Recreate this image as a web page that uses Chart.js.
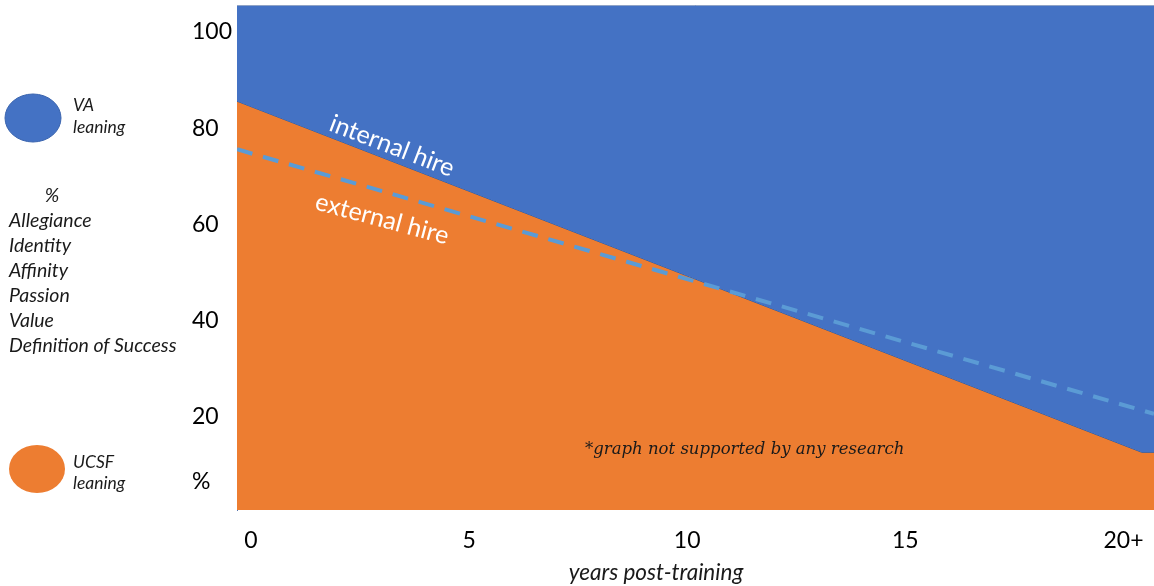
<!DOCTYPE html>
<html>
<head>
<meta charset="utf-8">
<script src="https://cdn.jsdelivr.net/npm/chart.js@4.4.1/dist/chart.umd.min.js"></script>
<style>
  html, body { margin: 0; padding: 0; background: #fff; }
  #wrap { width: 1154px; height: 586px; position: relative; }
</style>
</head>
<body>
<div id="wrap"><canvas id="chart"></canvas></div>
<script>
// years post-training (plot runs slightly past 0 and 20 on both sides)
const internalYears = [-0.32, 20.42, 20.7]
const internalHire = [85, 12, 12]
const externalYears = [-0.32, 20.7]
const externalHire = [75, 20]
const xTicks = [0, 5, 10, 15, 20]
const xTickLabels = ["0", "5", "10", "15", "20+"]
const yTicks = [6.5, 20, 40, 60, 80, 100]
const yTickLabels = ["%", "20", "40", "60", "80", "100"]
const sideLabels = ["Allegiance", "Identity", "Affinity", "Passion", "Value", "Definition of Success"]

const blue = "#4472C4"
const orange = "#ED7D31"
const dashBlue = "#5B9BD5"
const font = "Lato, 'Open Sans', sans-serif"

const toPoints = (xs, ys) => xs.map((x, i) => ({ x: x, y: ys[i] }))

const decorPlugin = {
  id: "decor",
  afterDatasetsDraw(chart) {
    const ctx = chart.ctx
    const area = chart.chartArea
    ctx.save()

    // frame top edge
    ctx.strokeStyle = "#8FA3C6"
    ctx.lineWidth = 1
    ctx.beginPath()
    ctx.moveTo(area.left, area.top + 0.5)
    ctx.lineTo(area.right, area.top + 0.5)
    ctx.stroke()

    // line labels
    ctx.fillStyle = "#ffffff"
    ctx.font = "25px " + font
    ctx.textAlign = "center"
    ctx.textBaseline = "middle"
    ctx.save()
    ctx.translate(392, 146)
    ctx.rotate(21 * Math.PI / 180)
    ctx.fillText("internal hire", 0, 0)
    ctx.restore()
    ctx.save()
    ctx.translate(382, 219)
    ctx.rotate(15 * Math.PI / 180)
    ctx.fillText("external hire", 0, 0)
    ctx.restore()

    // disclaimer
    ctx.fillStyle = "#1a1a1a"
    ctx.font = "italic 16.5px 'DejaVu Serif', serif"
    ctx.textAlign = "left"
    ctx.fillText("*graph not supported by any research", 585, 450)

    // left legend
    ctx.fillStyle = blue
    ctx.strokeStyle = "#3A64AE"
    ctx.beginPath()
    ctx.ellipse(33, 118, 28, 24, 0, 0, Math.PI * 2)
    ctx.fill()
    ctx.stroke()
    ctx.fillStyle = orange
    ctx.beginPath()
    ctx.ellipse(37, 469, 28, 24, 0, 0, Math.PI * 2)
    ctx.fill()

    ctx.fillStyle = "#1a1a1a"
    ctx.font = "italic 17.5px " + font
    ctx.fillText("VA", 73, 105)
    ctx.fillText("leaning", 73, 127)
    ctx.fillText("UCSF", 73, 462)
    ctx.fillText("leaning", 73, 483)

    ctx.font = "italic 19.5px " + font
    ctx.textAlign = "center"
    ctx.fillText("%", 52, 196)
    ctx.textAlign = "left"
    sideLabels.forEach((t, i) => ctx.fillText(t, 9, 221 + i * 25))

    // axis title
    ctx.font = "italic 22.5px " + font
    ctx.textAlign = "center"
    ctx.fillText("years post-training", 656, 573)

    ctx.restore()
  }
}

new Chart(document.getElementById("chart"), {
  type: "line",
  data: {
    datasets: [
      {
        label: "UCSF leaning",
        data: toPoints(internalYears, internalHire),
        backgroundColor: orange,
        borderColor: "#2F528F",
        borderWidth: 1,
        pointRadius: 0,
        fill: "start",
        order: 3
      },
      {
        label: "VA leaning",
        data: toPoints(internalYears, internalHire),
        backgroundColor: blue,
        borderWidth: 0,
        pointRadius: 0,
        fill: "end",
        order: 2
      },
      {
        label: "external hire",
        data: toPoints(externalYears, externalHire),
        borderColor: dashBlue,
        borderWidth: 4,
        borderDash: [16, 11],
        pointRadius: 0,
        fill: false,
        order: 1
      }
    ]
  },
  options: {
    responsive: true,
    maintainAspectRatio: false,
    animation: false,
    layout: { padding: { left: 192, top: 5, right: 0, bottom: 0 } },
    plugins: {
      legend: { display: false },
      tooltip: { enabled: false }
    },
    scales: {
      x: {
        type: "linear",
        min: internalYears[0],
        max: internalYears[internalYears.length - 1],
        grid: { display: false, drawTicks: false },
        border: { display: false },
        afterBuildTicks: (scale) => { scale.ticks = xTicks.map(v => ({ value: v })) },
        afterFit: (scale) => {
          scale.height = 76
          scale.paddingLeft = 0
          scale.paddingRight = 0
        },
        ticks: {
          color: "#000",
          font: { family: font, size: 23 },
          padding: 17,
          callback: (val) => xTickLabels[xTicks.indexOf(val)]
        }
      },
      y: {
        min: 0,
        max: 105,
        grid: { display: false, drawTicks: false },
        border: { display: true, color: "#5A77B0", width: 1 },
        afterBuildTicks: (scale) => { scale.ticks = yTicks.map(v => ({ value: v })) },
        afterFit: (scale) => {
          scale.width = 45
          scale.paddingTop = 0
          scale.paddingBottom = 0
        },
        ticks: {
          color: "#000",
          crossAlign: "far",
          labelOffset: 3,
          font: { family: font, size: 23 },
          callback: (val) => yTickLabels[yTicks.indexOf(val)]
        }
      }
    }
  },
  plugins: [decorPlugin]
})
</script>
</body>
</html>
